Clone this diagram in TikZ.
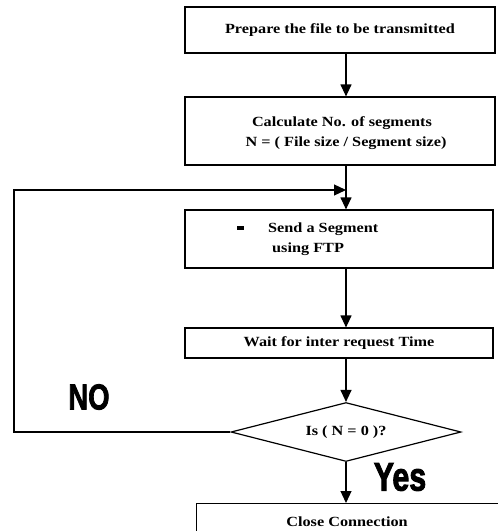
\documentclass[tikz,border=0pt]{standalone}
\usepackage{fontspec}
\setmainfont{Liberation Serif}
\newfontfamily\heavysans[FakeBold=2.5]{Liberation Sans Bold}
\usetikzlibrary{shapes.geometric,arrows.meta}
\newcommand{\wt}[1]{\scalebox{1.16}[1]{\fontsize{14}{16}\selectfont\bfseries #1}}
\newcommand{\bigword}[2]{\scalebox{0.76}[1]{\heavysans\fontsize{#1}{#1}\selectfont #2}}
\tikzset{
  box/.style={draw, line width=1.2pt, rectangle, inner sep=0pt},
  txt/.style={inner sep=0pt},
  arr/.style={line width=1.2pt, -{Triangle[length=12pt,width=11pt]}},
  ln/.style={line width=1.2pt}
}
\begin{document}
\begin{tikzpicture}[x=1pt,y=-1pt]
\useasboundingbox (0,0) rectangle (498,531);
\clip (0,0) rectangle (498,531);
% boxes
\node[box, minimum width=310pt, minimum height=46pt] (b1) at (340,30) {\wt{Prepare the file to be transmitted}};
\node[box, minimum width=310pt, minimum height=68pt] (b2) at (340,131) {};
\node[txt] (b2a) at (342,123) {\wt{Calculate No. of segments}};
\node[txt] (b2b) at (346,143) {\wt{N = ( File size / Segment size)}};
\node[box, minimum width=308pt, minimum height=58pt] (b3) at (339,239) {};
\node[txt, anchor=west] (b3bul) at (237,228) {\rule{7pt}{4.5pt}};
\node[txt, anchor=west] (b3a) at (268,229) {\wt{Send a Segment}};
\node[txt, anchor=west] (b3b) at (272,249) {\wt{using FTP}};
\node[box, minimum width=308pt, minimum height=30pt] (b4) at (339,343) {\wt{Wait for inter request Time}};
\node[draw, line width=1.2pt, diamond, aspect=3.9, minimum width=230pt, minimum height=59pt, inner sep=0pt] (d) at (346,432) {\wt{Is ( N = 0 )?}};
\node[box, minimum width=320pt, minimum height=60pt, anchor=north west] (b5) at (196,503) {};
\node[txt] (b5t) at (347,522) {\wt{Close Connection}};
% labels
\node[txt] (no) at (89,397) {\bigword{36}{NO}};
\node[txt] (yes) at (400,477) {\bigword{40}{Yes}};
% connectors
\coordinate (jn) at (346,190);
\coordinate (lb) at (14,432);
\coordinate (lt) at (14,190);
\draw[arr] (b1.south -| d.north) -- (b2.north -| d.north);
\draw[arr] (b2.south -| d.north) -- (b3.north -| d.north);
\draw[arr] (b3.south -| d.north) -- (b4.north -| d.north);
\draw[arr] (b4.south -| d.north) -- (d.north);
\draw[arr] (d.south) -- (b5.north -| d.south);
\draw[arr] (d.west) -- (lb) -- (lt) -- (jn);
\end{tikzpicture}
\end{document}
